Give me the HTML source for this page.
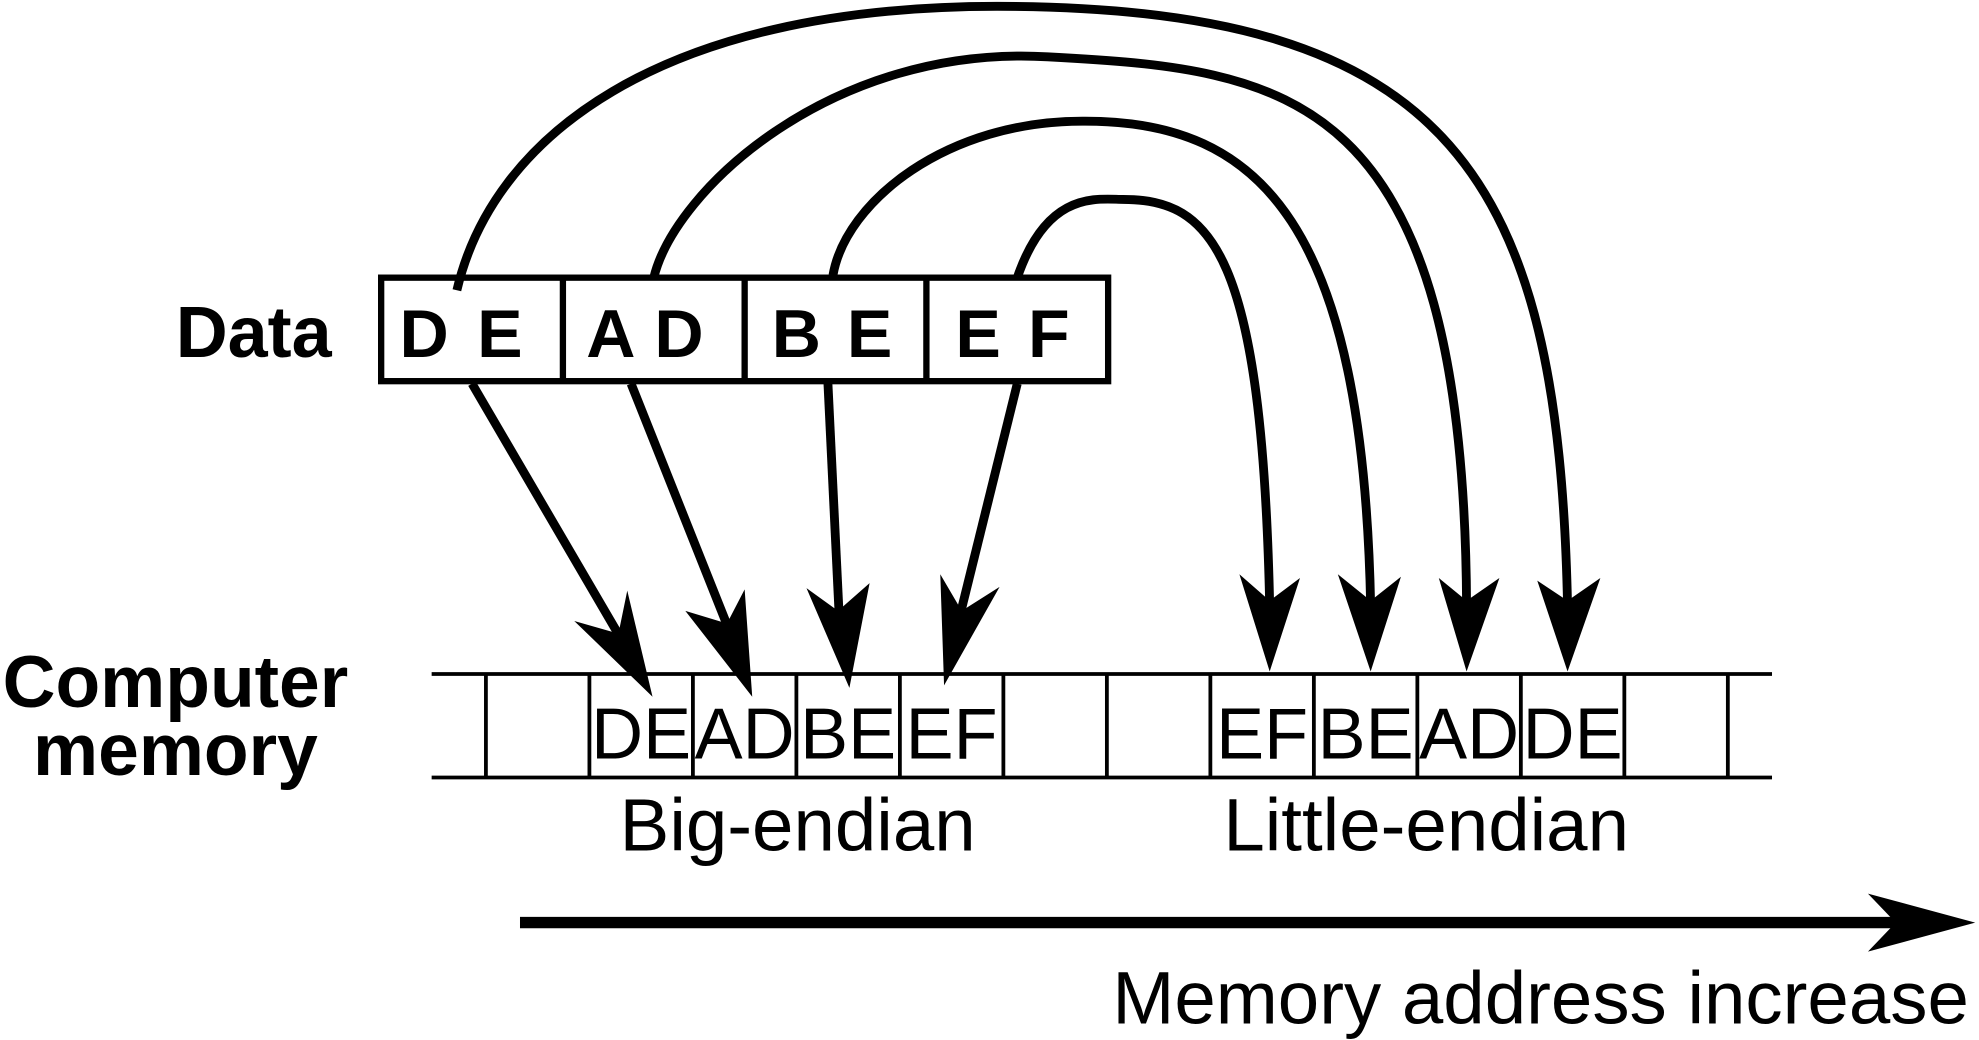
<!DOCTYPE html>
<html><head><meta charset="utf-8"><style>
html,body{margin:0;padding:0;background:#fff;}
svg{display:block;}
text{font-family:"Liberation Sans",Arial,sans-serif;fill:#000;}
</style></head><body>
<svg width="1979" height="1040" viewBox="0 0 1568 824" xmlns="http://www.w3.org/2000/svg">
<rect x="302" y="220" width="576" height="82" fill="none" stroke="#000" stroke-width="5"/>
<line x1="446" y1="220" x2="446" y2="302" stroke="#000" stroke-width="5"/>
<line x1="590" y1="220" x2="590" y2="302" stroke="#000" stroke-width="5"/>
<line x1="734" y1="220" x2="734" y2="302" stroke="#000" stroke-width="5"/>
<g font-weight="bold" font-size="54" text-anchor="middle">
<text x="336" y="283">D</text><text x="396" y="283">E</text>
<text x="484" y="283">A</text><text x="538" y="283">D</text>
<text x="631" y="283">B</text><text x="689" y="283">E</text>
<text x="775" y="283">E</text><text x="831" y="283">F</text>
</g>
<text x="201" y="283" font-weight="bold" font-size="57" text-anchor="middle">Data</text>
<text x="139" y="560" font-weight="bold" font-size="58" text-anchor="middle">Computer</text>
<text x="139" y="614" font-weight="bold" font-size="58" text-anchor="middle">memory</text>
<g stroke="#000" stroke-width="3">
<line x1="342" y1="534" x2="1404" y2="534"/>
<line x1="342" y1="616" x2="1404" y2="616"/>
<line x1="385" y1="534" x2="385" y2="616"/><line x1="467" y1="534" x2="467" y2="616"/>
<line x1="549" y1="534" x2="549" y2="616"/><line x1="631" y1="534" x2="631" y2="616"/>
<line x1="713" y1="534" x2="713" y2="616"/><line x1="795" y1="534" x2="795" y2="616"/>
<line x1="877" y1="534" x2="877" y2="616"/><line x1="959" y1="534" x2="959" y2="616"/>
<line x1="1041" y1="534" x2="1041" y2="616"/><line x1="1123" y1="534" x2="1123" y2="616"/>
<line x1="1205" y1="534" x2="1205" y2="616"/><line x1="1287" y1="534" x2="1287" y2="616"/>
<line x1="1369" y1="534" x2="1369" y2="616"/>
</g>
<g font-size="57" text-anchor="middle">
<text x="508" y="601">DE</text><text x="590" y="601">AD</text>
<text x="672" y="601">BE</text><text x="754" y="601">EF</text>
<text x="1000" y="601">EF</text><text x="1082" y="601">BE</text>
<text x="1164" y="601">AD</text><text x="1246" y="601">DE</text>
</g>
<g font-size="59" text-anchor="middle">
<text x="632" y="674">Big-endian</text>
<text x="1130" y="674">Little-endian</text>
</g>
<text x="1560" y="811" font-size="59" text-anchor="end">Memory address increase</text>
<line x1="412" y1="731" x2="1505" y2="731" stroke="#000" stroke-width="9"/>
<polygon points="1480,708 1565,731 1480,754 1502,731" fill="#000"/>
<g stroke="#000" stroke-width="7" fill="none">
<line x1="374" y1="304" x2="492" y2="506"/>
<line x1="500" y1="304" x2="578" y2="500"/>
<line x1="656" y1="304" x2="665" y2="490"/>
<line x1="806" y1="304" x2="760" y2="490"/>
<path d="M806,220 C830,150 870,158 890,158 C960,158 1000,200 1006,480"/>
<path d="M660,218 C670,160 750,95 860,96 C1000,96 1080,180 1086,480"/>
<path d="M518,220 C535,150 660,35 830,45 C1020,55 1160,70 1162,480"/>
<path d="M362,230 C390,110 520,5 790,5 C1150,5 1235,140 1242,480"/>
</g>
<g fill="#000">
<polygon points="517,552 455,492 490,502 497,468"/>
<polygon points="596,552 543,484 576,494 590,467"/>
<polygon points="673,545 639,466 664,484 689,462"/>
<polygon points="748,543 745,455 762,484 792,465"/>
<polygon points="1006,532 982,455 1006,476 1030,458"/>
<polygon points="1086,532 1060,455 1086,476 1110,457"/>
<polygon points="1162,532 1140,458 1162,476 1188,458"/>
<polygon points="1242,532 1218,460 1242,476 1268,458"/>
</g>
</svg>
</body></html>
